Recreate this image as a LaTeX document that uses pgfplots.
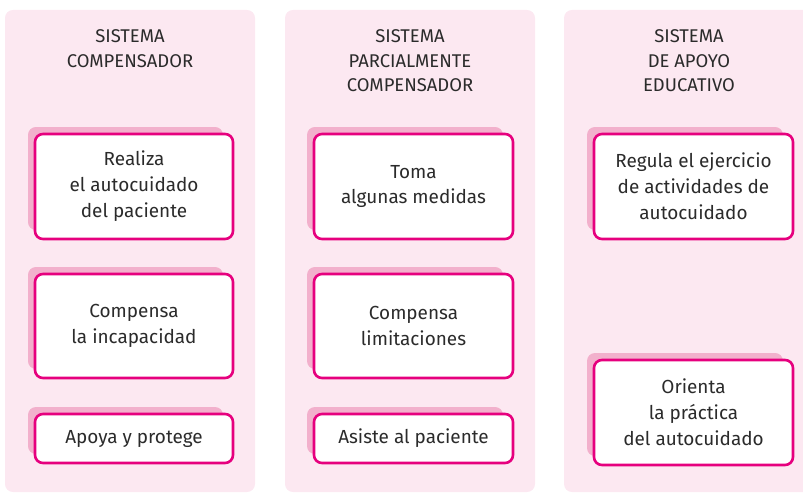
\documentclass[border=0pt]{standalone}
\usepackage{pgfplots}
\pgfplotsset{compat=1.18}
\usepackage{fontspec}
\setmainfont{Fira Sans}
\definecolor{panelbg}{HTML}{FCE8F1}
\definecolor{shadowc}{HTML}{F2B0CC}
\definecolor{borderc}{HTML}{E6007E}
\definecolor{txt}{HTML}{2B2B2B}
\newcommand{\card}[5]{% x1, y1, x2, y2, text
  \fill[shadowc,rounded corners=8] (#1-7,#2-7) rectangle (#3-10,#4-9);
  \draw[borderc,line width=2.6pt,fill=white,rounded corners=8] (#1,#2) rectangle (#3,#4);
  \node[txt,align=center,font=\fontsize{19}{26}\selectfont,inner sep=0] at ({(#1+#3)/2},{(#2+#4)/2}) {#5};
}
\begin{document}
\begin{tikzpicture}
\begin{axis}[
  width=803bp, height=493bp, scale only axis,
  xmin=0, xmax=803, ymin=0, ymax=493, y dir=reverse,
  hide axis, clip=false]
  \path (0,0) rectangle (803,493);
  % panels
  \fill[panelbg,rounded corners=8] (5,10) rectangle (255,492);
  \fill[panelbg,rounded corners=8] (285,10) rectangle (535,492);
  \fill[panelbg] (803,10) [rounded corners=8] -- (564,10) -- (564,492) [sharp corners] -- (803,492) -- cycle;
  % headers
  \node[txt,align=center,anchor=north,inner sep=0,font=\fontsize{18.5}{25}\selectfont] at (130,29) {SISTEMA\\COMPENSADOR};
  \node[txt,align=center,anchor=north,inner sep=0,font=\fontsize{18.5}{25}\selectfont] at (410,29) {SISTEMA\\PARCIALMENTE\\COMPENSADOR};
  \node[txt,align=center,anchor=north,inner sep=0,font=\fontsize{18.5}{25}\selectfont] at (689,29) {SISTEMA\\DE APOYO\\EDUCATIVO};
  % cards panel 1
  \card{35}{134}{233}{239}{Realiza\\el autocuidado\\del paciente}
  \card{35}{274}{233}{378}{Compensa\\la incapacidad}
  \card{35}{414}{233}{463}{Apoya y protege}
  % cards panel 2
  \card{314}{134}{513}{239}{Toma\\algunas medidas}
  \card{314}{274}{513}{378}{Compensa\\limitaciones}
  \card{314}{414}{513}{463}{Asiste al paciente}
  % cards panel 3
  \card{594}{134}{793}{239}{Regula el ejercicio\\de actividades de\\autocuidado}
  \card{594}{360}{793}{465}{Orienta\\la práctica\\del autocuidado}
\end{axis}
\end{tikzpicture}
\end{document}
